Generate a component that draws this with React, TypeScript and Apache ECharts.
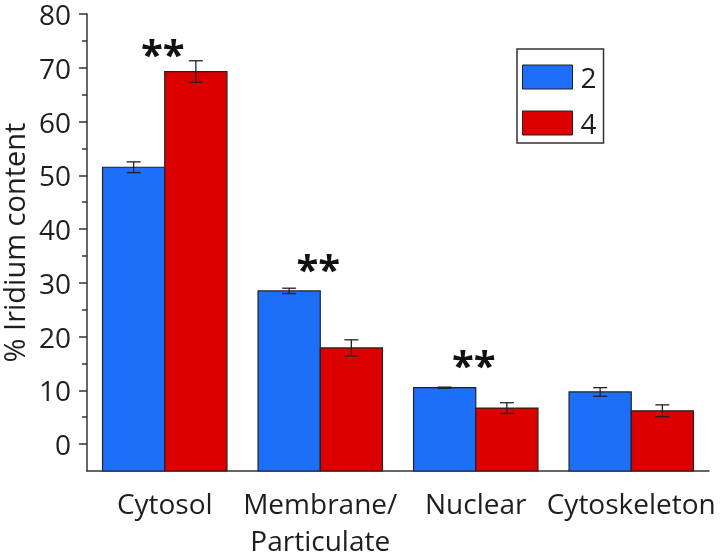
import React, { useEffect, useRef } from "react";
import * as echarts from "echarts";

const categories = ["Cytosol", "Membrane/\nParticulate", "Nuclear", "Cytoskeleton"];
const seriesNames = ["2", "4"];
const values2 = [51.5, 28.5, 10.5, 9.7];
const err2 = [1.0, 0.5, 0.1, 0.8];
const values4 = [69.3, 17.9, 6.7, 6.2];
const err4 = [2.0, 1.5, 1.0, 1.1];
const sigLabels = ["**", "**", "**", ""];
const sigY = [73.7, 33.7, 15.9, 0];
const majorTicks = [0, 10, 20, 30, 40, 50, 60, 70, 80];
const minorTicks = [5, 15, 25, 35, 45, 55, 65, 75];
const yMin = -5;
const yMax = 80;

const BLUE = "#1c6ff6";
const RED = "#dc0000";
const FONT = "Open Sans";
const INK = "#1e1e1e";

function makeBarRender(side: number, color: string) {
  return (params: any, api: any) => {
    const i = api.value(0);
    const v = api.value(1);
    const e = api.value(2);
    const band = api.size([1, 0])[0];
    const bw = band * 0.4;
    const c = api.coord([i, v]);
    const b = api.coord([i, yMin]);
    const x0 = c[0] + (side === 0 ? -bw : 0);
    const xm = x0 + bw / 2;
    const t = api.coord([i, v + e]);
    const bo = api.coord([i, v - e]);
    const cap = 7;
    const ls = { stroke: "#222", lineWidth: 1.3 };
    return {
      type: "group",
      children: [
        {
          type: "rect",
          shape: { x: x0, y: c[1], width: bw, height: b[1] - c[1] },
          style: { fill: color, stroke: "#222", lineWidth: 1.2 },
        },
        { type: "line", shape: { x1: xm, y1: t[1], x2: xm, y2: bo[1] }, style: ls },
        { type: "line", shape: { x1: xm - cap, y1: t[1], x2: xm + cap, y2: t[1] }, style: ls },
        { type: "line", shape: { x1: xm - cap, y1: bo[1], x2: xm + cap, y2: bo[1] }, style: ls },
      ],
    };
  };
}

export default function App() {
  const ref = useRef<HTMLDivElement>(null);
  useEffect(() => {
    if (!ref.current) return;
    const chart = echarts.init(ref.current, null, { renderer: "svg" });
    const axisLineStyle = { color: "#333", width: 1.5 };
    const option: any = {
      animation: false,
      grid: { left: 87, right: 15, top: 14, bottom: 87, containLabel: false, outerBoundsMode: "none" },
      legend: {
        orient: "vertical",
        left: 517,
        top: 49,
        itemWidth: 50,
        itemHeight: 24,
        itemGap: 18,
        padding: [14, 7, 6, 5],
        borderColor: "#333",
        borderWidth: 1.5,
        textStyle: { fontSize: 28, fontFamily: FONT, color: INK, padding: [0, 0, 0, 3] },
        data: [
          { name: seriesNames[0], icon: "rect", itemStyle: { color: BLUE, borderColor: "#222", borderWidth: 1 } },
          { name: seriesNames[1], icon: "rect", itemStyle: { color: RED, borderColor: "#222", borderWidth: 1 } },
        ],
      },
      xAxis: {
        type: "category",
        data: categories,
        axisLine: { onZero: false, lineStyle: axisLineStyle },
        axisTick: { alignWithLabel: true, length: 9, lineStyle: axisLineStyle },
        axisLabel: { fontSize: 28, lineHeight: 37, margin: 13, color: INK, fontFamily: FONT, interval: 0 },
        splitLine: { show: false },
      },
      yAxis: [
        {
          type: "value",
          min: yMin,
          max: yMax,
          name: "% Iridium content",
          nameLocation: "middle",
          nameGap: 60,
          nameTextStyle: { fontSize: 29, lineHeight: 26, fontFamily: FONT, color: INK },
          axisLine: { show: true, lineStyle: axisLineStyle },
          axisTick: { show: true, length: 8, lineStyle: axisLineStyle, customValues: majorTicks },
          axisLabel: { fontSize: 28, lineHeight: 26, fontFamily: FONT, color: INK, margin: 16, customValues: majorTicks },
          splitLine: { show: false },
        },
        {
          type: "value",
          min: yMin,
          max: yMax,
          position: "left",
          axisLine: { show: false },
          axisTick: { show: true, length: 5, lineStyle: axisLineStyle, customValues: minorTicks },
          axisLabel: { show: false, customValues: minorTicks },
          splitLine: { show: false },
        },
      ],
      series: [
        {
          name: seriesNames[0],
          type: "custom",
          itemStyle: { color: BLUE },
          encode: { x: 0, y: 1 },
          data: values2.map((v, i) => [i, v, err2[i]]),
          renderItem: makeBarRender(0, BLUE),
        },
        {
          name: seriesNames[1],
          type: "custom",
          itemStyle: { color: RED },
          encode: { x: 0, y: 1 },
          data: values4.map((v, i) => [i, v, err4[i]]),
          renderItem: makeBarRender(1, RED),
        },
        {
          name: "sig",
          type: "custom",
          encode: { x: 0, y: 1 },
          data: sigY.map((v, i) => [i, v]),
          renderItem: (params: any, api: any) => {
            const i = api.value(0);
            const label = sigLabels[i];
            if (!label) return null;
            const p = api.coord([i, api.value(1)]);
            return {
              type: "text",
              x: p[0] - 2,
              y: p[1] + 6,
              style: {
                text: label,
                fontSize: 40,
                fontWeight: "bold",
                fontFamily: FONT,
                fill: "#111",
                align: "center",
                verticalAlign: "middle",
              },
            };
          },
        },
      ],
    };
    chart.setOption(option);
    return () => chart.dispose();
  }, []);
  return <div ref={ref} style={{ position: "fixed", left: 0, top: 0, width: 724, height: 558 }} />;
}
